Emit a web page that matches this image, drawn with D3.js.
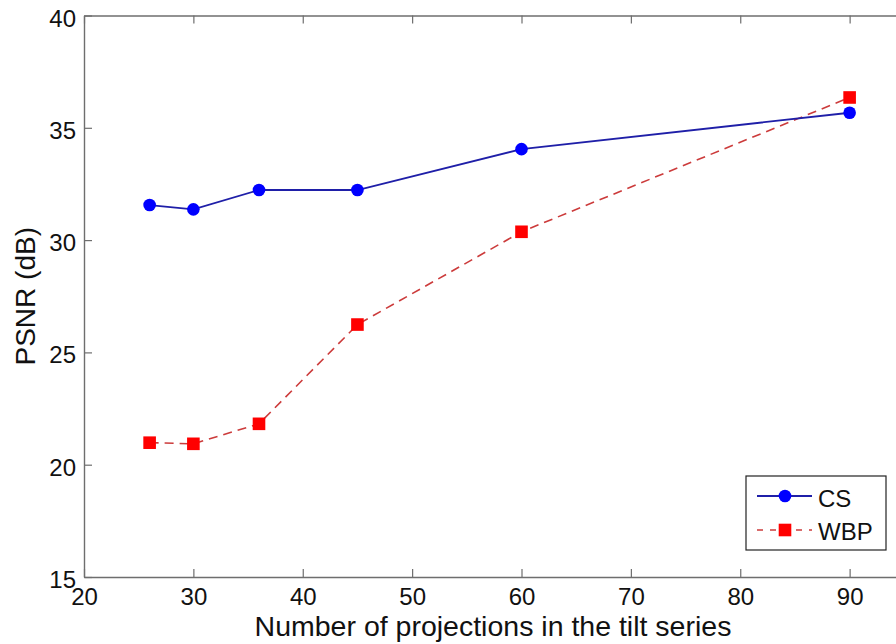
<!DOCTYPE html>
<html>
<head>
<meta charset="utf-8">
<script src="https://cdn.jsdelivr.net/npm/d3@7"></script>
<style>
  html, body { margin: 0; padding: 0; background: #fff; }
  svg { display: block; }
  text { font-family: "Liberation Sans", Arial, sans-serif; fill: #111; }
</style>
</head>
<body>
<svg id="chart" width="896" height="644"></svg>
<script>
// ---- data ----
const projections = [26, 30, 36, 45, 60, 90];
const csValues  = [31.56, 31.37, 32.23, 32.23, 34.05, 35.67];
const wbpValues = [20.98, 20.93, 21.82, 26.24, 30.37, 36.35];
const xTicks = [20, 30, 40, 50, 60, 70, 80, 90];
const yTicks = [15, 20, 25, 30, 35, 40];
const seriesNames = ["CS", "WBP"];
const xTitle = "Number of projections in the tilt series";
const yTitle = "PSNR (dB)";

// ---- layout ----
const W = 896, H = 644;
const pLeft = 84, pRight = 959, pTop = 15.5, pBottom = 577;

const svg = d3.select("#chart");
svg.append("rect").attr("width", W).attr("height", H).attr("fill", "#fff");

// x domain runs to 100; the right part of the figure lies beyond the crop, as in the original
const x = d3.scaleLinear().domain([20, 100]).range([pLeft, pRight]);
const y = d3.scaleLinear().domain([15, 40]).range([pBottom, pTop]);

const axisColor = "#6e6e6e";
function styleAxis(g) {
  g.selectAll("path.domain").attr("stroke", axisColor).attr("stroke-width", 1.4);
  g.selectAll(".tick line").attr("stroke", axisColor).attr("stroke-width", 1.2);
  g.selectAll(".tick text").attr("font-size", 24).attr("fill", "#111")
    .attr("font-family", '"Liberation Sans", Arial, sans-serif');
}

// bottom axis
const gx = svg.append("g").attr("transform", `translate(0,${pBottom})`)
  .call(d3.axisBottom(x).tickValues(xTicks).tickSizeInner(-8).tickSizeOuter(0).tickPadding(11).tickFormat(d3.format("d")));
styleAxis(gx);
// top axis (box)
const gxt = svg.append("g").attr("transform", `translate(0,${pTop})`)
  .call(d3.axisTop(x).tickValues(xTicks).tickSizeInner(-8).tickSizeOuter(0).tickFormat(""));
styleAxis(gxt);
// left axis
const gy = svg.append("g").attr("transform", `translate(${pLeft},0)`)
  .call(d3.axisLeft(y).tickValues(yTicks).tickSizeInner(-8).tickSizeOuter(0).tickPadding(8).tickFormat(d3.format("d")));
styleAxis(gy);
gy.selectAll(".tick text").attr("dy", "0.44em");
// right axis (off-canvas, as in the cropped original)
const gyr = svg.append("g").attr("transform", `translate(${pRight},0)`)
  .call(d3.axisRight(y).tickValues(yTicks).tickSizeInner(-8).tickSizeOuter(0).tickFormat(""));
styleAxis(gyr);

// axis titles
svg.append("text").attr("x", 493).attr("y", 636).attr("text-anchor", "middle")
  .attr("font-size", 28.5).text(xTitle);
svg.append("text").attr("transform", `translate(35,${(pTop + pBottom) / 2}) rotate(-90)`)
  .attr("text-anchor", "middle").attr("font-size", 28).text(yTitle);

// ---- series ----
const line = d3.line().x(d => x(d[0])).y(d => y(d[1]));
const csData = projections.map((p, i) => [p, csValues[i]]);
const wbpData = projections.map((p, i) => [p, wbpValues[i]]);

const csLine = "#1f1fa8", csMark = "#0000ff";
const wbpLine = "#cc3b3b", wbpMark = "#ff0000";

svg.append("path").datum(wbpData).attr("d", line).attr("fill", "none")
  .attr("stroke", wbpLine).attr("stroke-width", 1.6).attr("stroke-dasharray", "9,6");
svg.append("path").datum(csData).attr("d", line).attr("fill", "none")
  .attr("stroke", csLine).attr("stroke-width", 1.8);

svg.selectAll("circle.cs").data(csData).enter().append("circle")
  .attr("class", "cs").attr("cx", d => x(d[0])).attr("cy", d => y(d[1]))
  .attr("r", 6.3).attr("fill", csMark);
svg.selectAll("rect.wbp").data(wbpData).enter().append("rect")
  .attr("class", "wbp").attr("x", d => x(d[0]) - 6.3).attr("y", d => y(d[1]) - 6.3)
  .attr("width", 12.6).attr("height", 12.6).attr("fill", wbpMark);

// ---- legend ----
const lg = svg.append("g");
lg.append("rect").attr("x", 746).attr("y", 476).attr("width", 140).attr("height", 74)
  .attr("fill", "#fff").attr("stroke", "#222").attr("stroke-width", 1.2);
const legendRows = [
  { name: seriesNames[0], y: 496, base: 507, color: csLine, mark: csMark, dash: null, shape: "circle" },
  { name: seriesNames[1], y: 530, base: 540, color: wbpLine, mark: wbpMark, dash: "9,6", shape: "square" }
];
legendRows.forEach(r => {
  const ln = lg.append("line").attr("x1", 757).attr("x2", 812).attr("y1", r.y).attr("y2", r.y)
    .attr("stroke", r.color).attr("stroke-width", r.dash ? 1.6 : 1.8);
  if (r.dash) ln.attr("stroke-dasharray", "6,7");
  if (r.shape === "circle") {
    lg.append("circle").attr("cx", 785).attr("cy", r.y).attr("r", 6.3).attr("fill", r.mark);
  } else {
    lg.append("rect").attr("x", 785 - 6.3).attr("y", r.y - 6.3).attr("width", 12.6).attr("height", 12.6).attr("fill", r.mark);
  }
  lg.append("text").attr("x", 818).attr("y", r.base).attr("font-size", 24).text(r.name);
});
</script>
</body>
</html>
